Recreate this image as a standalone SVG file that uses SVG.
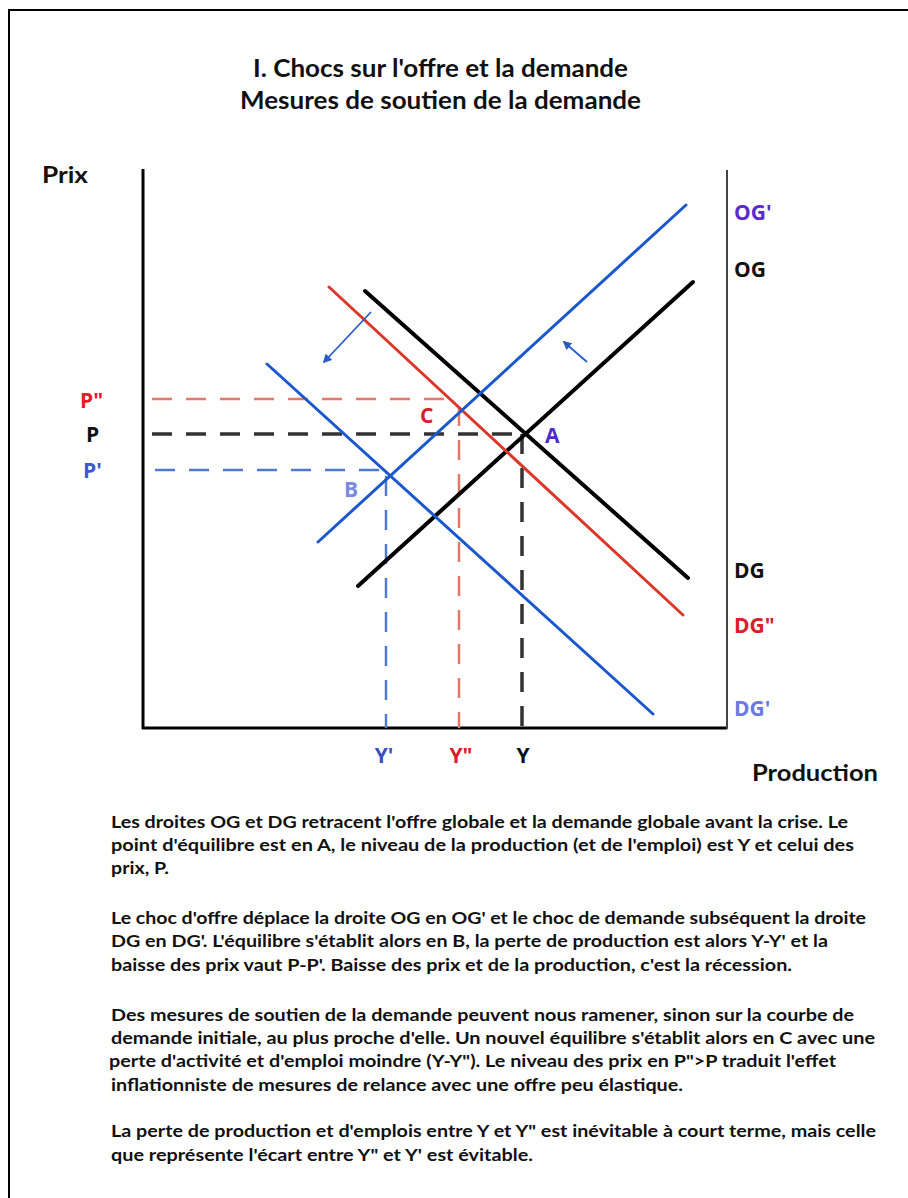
<svg xmlns="http://www.w3.org/2000/svg" width="908" height="1198" viewBox="0 0 908 1198">
<defs>
<style>
.t{font-family:Lato,"Open Sans","Liberation Sans",sans-serif;font-weight:bold;}
.para{font-family:Lato,"Open Sans","Liberation Sans",sans-serif;font-weight:bold;font-size:17.5px;fill:#111;}
.lbl{font-family:"Open Sans","Liberation Sans",sans-serif;font-weight:bold;font-size:21px;}
.ax{stroke:#000;stroke-width:3;fill:none;}
.curve{fill:none;stroke-linecap:round;}
.dash{fill:none;stroke-dasharray:20 14;}
</style>
<marker id="ah" viewBox="0 0 10 10" refX="8" refY="5" markerWidth="5" markerHeight="5" orient="auto"><path d="M0,0 L10,5 L0,10 Z" fill="#2a5cc8"/></marker>
</defs>
<rect width="908" height="1198" fill="#fff"/>
<path d="M9,1198 V10 H908" fill="none" stroke="#000" stroke-width="2"/>

<g id="title" class="t" font-size="25" fill="#111">
<text x="253" y="77" textLength="375" lengthAdjust="spacingAndGlyphs">I. Chocs sur l'offre et la demande</text>
<text x="240" y="109" textLength="401" lengthAdjust="spacingAndGlyphs">Mesures de soutien de la demande</text>
</g>

<g id="axes">
<line class="ax" x1="143" y1="169" x2="143" y2="729"/>
<line class="ax" x1="142" y1="728" x2="727" y2="728"/>
<line x1="727" y1="170" x2="727" y2="729" stroke="#444" stroke-width="2"/>
<text class="t" x="42" y="183" font-size="23" fill="#111" textLength="46" lengthAdjust="spacingAndGlyphs">Prix</text>
<text class="t" x="752" y="781" font-size="23" fill="#111" textLength="126" lengthAdjust="spacingAndGlyphs">Production</text>
</g>

<g id="connectors">
<line class="dash" x1="152" y1="399" x2="458" y2="399" stroke="#e27a6a" stroke-width="2.5"/>
<line class="dash" x1="152" y1="434" x2="523" y2="434" stroke="#333" stroke-width="3.5"/>
<line class="dash" x1="155" y1="470" x2="388" y2="470" stroke="#4f7ad0" stroke-width="2.5"/>
<line class="dash" x1="386" y1="476" x2="386" y2="728" stroke="#4f7ad0" stroke-width="2.5"/>
<line class="dash" x1="459" y1="406" x2="459" y2="728" stroke="#e27a6a" stroke-width="2.5"/>
<line class="dash" x1="522" y1="434" x2="522" y2="728" stroke="#333" stroke-width="3.5"/>

<line id="OG" class="curve" x1="358" y1="586" x2="693" y2="282" stroke="#000" stroke-width="4"/>
<line id="DG" class="curve" x1="365" y1="291" x2="688" y2="578" stroke="#000" stroke-width="4"/>
<line id="DGpp" class="curve" x1="329" y1="287" x2="683" y2="615" stroke="#d9382a" stroke-width="3"/>
<line id="OGp" class="curve" x1="318" y1="542" x2="686" y2="205" stroke="#1b58cc" stroke-width="3"/>
<line id="DGp" class="curve" x1="267" y1="364" x2="653" y2="714" stroke="#1b58cc" stroke-width="3"/>

<line x1="371" y1="312" x2="324" y2="362" stroke="#2a5cc8" stroke-width="1.8" marker-end="url(#ah)"/>
<line x1="587" y1="362" x2="564" y2="342" stroke="#2a5cc8" stroke-width="1.8" marker-end="url(#ah)"/>
</g>

<g id="labels" class="lbl">
<text x="80" y="408" fill="#e0202a">P"</text>
<text x="86" y="442" fill="#111">P</text>
<text x="83" y="478" fill="#3a5ad0">P'</text>
<text x="420" y="423" fill="#d8202a">C</text>
<text x="344" y="497" fill="#7a8ae0">B</text>
<text x="545" y="443" fill="#4a2ad0">A</text>
<text x="734" y="220" fill="#5a2ad0">OG'</text>
<text x="734" y="277" fill="#111">OG</text>
<text x="734" y="578" fill="#111">DG</text>
<text x="734" y="633" fill="#d8202a">DG"</text>
<text x="734" y="716" fill="#6a7ae0">DG'</text>
<text x="384" y="763" text-anchor="middle" fill="#3a4fc0">Y'</text>
<text x="461" y="763" text-anchor="middle" fill="#d8202a">Y"</text>
<text x="523" y="763" text-anchor="middle" fill="#111">Y</text>
</g>

<g id="text" class="para">
<text x="111" y="828" textLength="737" lengthAdjust="spacingAndGlyphs">Les droites OG et DG retracent l'offre globale et la demande globale avant la crise. Le</text>
<text x="111" y="851" textLength="743" lengthAdjust="spacingAndGlyphs">point d'équilibre est en A, le niveau de la production (et de l'emploi) est Y et celui des</text>
<text x="111" y="874" textLength="58" lengthAdjust="spacingAndGlyphs">prix, P.</text>
<text x="111" y="924" textLength="755" lengthAdjust="spacingAndGlyphs">Le choc d'offre déplace la droite OG en OG' et le choc de demande subséquent la droite</text>
<text x="111" y="947" textLength="717" lengthAdjust="spacingAndGlyphs">DG en DG'. L'équilibre s'établit alors en B, la perte de production est alors Y-Y' et la</text>
<text x="111" y="971" textLength="681" lengthAdjust="spacingAndGlyphs">baisse des prix vaut P-P'. Baisse des prix et de la production, c'est la récession.</text>
<text x="111" y="1021" textLength="743" lengthAdjust="spacingAndGlyphs">Des mesures de soutien de la demande peuvent nous ramener, sinon sur la courbe de</text>
<text x="111" y="1044" textLength="764" lengthAdjust="spacingAndGlyphs">demande initiale, au plus proche d'elle. Un nouvel équilibre s'établit alors en C avec une</text>
<text x="109" y="1067" textLength="727" lengthAdjust="spacingAndGlyphs">perte d'activité et d'emploi moindre (Y-Y"). Le niveau des prix en P"&gt;P traduit l'effet</text>
<text x="111" y="1091" textLength="572" lengthAdjust="spacingAndGlyphs">inflationniste de mesures de relance avec une offre peu élastique.</text>
<text x="111" y="1137" textLength="765" lengthAdjust="spacingAndGlyphs">La perte de production et d'emplois entre Y et Y" est inévitable à court terme, mais celle</text>
<text x="111" y="1161" textLength="422" lengthAdjust="spacingAndGlyphs">que représente l'écart entre Y" et Y' est évitable.</text>
</g>
</svg>
